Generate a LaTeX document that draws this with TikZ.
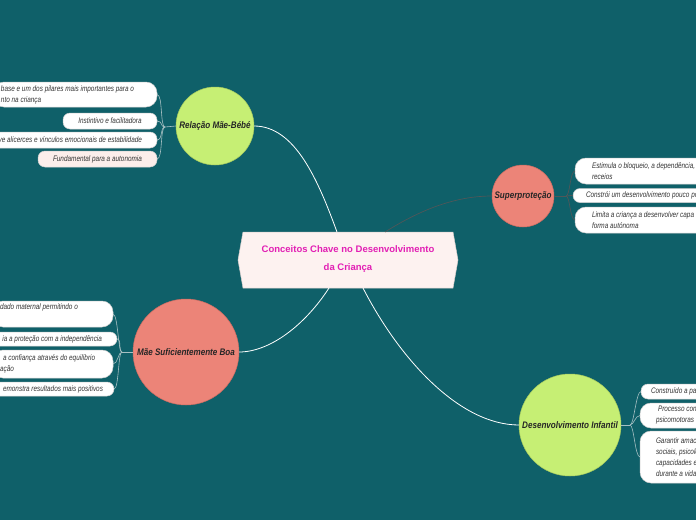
\documentclass[tikz,border=0pt]{standalone}
\usepackage{fontspec}
\setmainfont{Liberation Sans}
\newfontfamily\handfont[FakeStretch=0.8]{Liberation Sans}
\newfontfamily\circfont[FakeStretch=0.85]{Liberation Sans}
\definecolor{bgteal}{HTML}{0F6069}
\definecolor{lime}{HTML}{C6EF74}
\definecolor{limeline}{HTML}{A9CC5E}
\definecolor{salmon}{HTML}{EC8478}
\definecolor{salmonline}{HTML}{C96B61}
\definecolor{hexfill}{HTML}{FDF2F0}
\definecolor{hexline}{HTML}{D9CFCD}
\definecolor{titlemag}{HTML}{E21FB4}
\definecolor{twig}{HTML}{A7C0C3}
\definecolor{darktwig}{HTML}{4E5759}
\definecolor{boxline}{HTML}{CFCFCF}
\definecolor{pinkbox}{HTML}{FCEEEB}
\definecolor{leaftext}{HTML}{333333}
\tikzset{
  leaf/.style={draw=boxline, fill=white, line width=0.5pt, rounded corners=7pt,
    inner ysep=0pt, outer sep=0pt, align=left, text=leaftext,
    font=\handfont\itshape\fontsize{8}{11}\selectfont},
  tallleaf/.style={leaf, rounded corners=11pt},
  bubble/.style={circle, line width=0.5pt, inner sep=0pt, outer sep=0pt,
    text=black!85, font=\circfont\bfseries\itshape\fontsize{9.5}{11}\selectfont},
  mainlink/.style={white, line width=0.8pt},
  twiglink/.style={twig, line width=0.6pt},
  darklink/.style={darktwig, line width=0.7pt},
}
\begin{document}
\begin{tikzpicture}[x=1pt,y=-1pt]
\clip (0,0) rectangle (696,520);
\fill[bgteal] (0,0) rectangle (696,520);

% central node
\node[minimum width=210pt, minimum height=56pt, inner sep=0pt, outer sep=0pt] (c) at (348,260) {};
\filldraw[fill=hexfill, draw=hexline, line width=0.5pt]
  (c.north west) -- (c.north east) -- ([xshift=5pt]c.east) -- (c.south east)
  -- (c.south west) -- ([xshift=-5pt]c.west) -- cycle;
\node[align=center, text=titlemag, font=\bfseries\fontsize{9.5}{18}\selectfont] (ct) at (348,259)
  {Conceitos Chave no Desenvolvimento\\da Criança};

% main bubbles
\node[bubble, fill=lime, draw=limeline, minimum size=78pt] (r) at (215,126) {Relação Mãe-Bébé};
\node[bubble, fill=salmon, draw=salmonline, minimum size=62pt] (s) at (523,196) {Superproteção};
\node[bubble, fill=salmon, draw=salmonline, minimum size=106pt] (m) at (186,352) {Mãe Suficientemente Boa};
\node[bubble, fill=lime, draw=limeline, minimum size=102pt] (d) at (570,425) {Desenvolvimento Infantil};

% main connectors
\draw[mainlink] (r.east) .. controls (295,126) and (318,180) .. ([xshift=-11pt]c.north);
\draw[darklink] ([xshift=37pt]c.north) .. controls (420,210) and (455,196) .. (s.west);
\draw[mainlink] ([xshift=-19pt]c.south) .. controls (305,325) and (270,352) .. (m.east);
\draw[mainlink] ([xshift=15pt]c.south) .. controls (400,360) and (460,425) .. (d.west);

% Relação leaves
\node[tallleaf, anchor=east, inner xsep=8pt, minimum height=25pt] (r1) at (157,94.5)
  {\makebox[148pt][l]{base e um dos pilares mais importantes para o}\\\makebox[148pt][l]{nto na criança}};
\node[leaf, anchor=east, align=center, inner xsep=4pt, minimum width=94pt, minimum height=16pt] (r2) at (157,121)
  {Instintivo e facilitadora};
\node[leaf, anchor=east, inner xsep=15pt, minimum height=16pt] (r3) at (157,140)
  {\makebox[160pt][r]{ve alicerces e vínculos emocionais de estabilidade}};
\node[leaf, fill=pinkbox, anchor=east, align=center, inner xsep=4pt, minimum width=119pt, minimum height=16pt] (r4) at (157,159)
  {Fundamental para a autonomia};
\coordinate (jr) at (165,127);
\draw[twiglink] (r.west) -- (jr);
\foreach \k in {r1,r2,r3,r4}
  \draw[twiglink] (jr) .. controls +(-5,0) and +(6,0) .. (\k.east);

% Superproteção leaves
\node[tallleaf, anchor=west, inner xsep=17pt, minimum height=26pt] (s1) at (575,171)
  {\makebox[150pt][l]{Estimula o bloqueio, a dependência,}\\\makebox[150pt][l]{receios}};
\node[leaf, anchor=west, inner xsep=13pt, minimum height=14pt] (s2) at (573,195.5)
  {\makebox[150pt][l]{Constrói um desenvolvimento pouco po}};
\node[tallleaf, anchor=west, inner xsep=17pt, minimum height=26pt] (s3) at (575,220)
  {\makebox[150pt][l]{Limita a criança a desenvolver capa}\\\makebox[150pt][l]{forma autónoma}};
\coordinate (js) at (566,196);
\draw[darklink] (s.east) -- (js);
\foreach \k in {s1,s2,s3}
  \draw[darklink] (js) .. controls +(4,0) and +(-5,0) .. (\k.west);

% Mãe Suficientemente Boa leaves
\node[tallleaf, anchor=east, inner xsep=8pt, minimum height=26pt] (m1) at (113,314)
  {\makebox[105pt][l]{dado maternal permitindo o}\\\makebox[105pt][l]{\strut}};
\node[leaf, anchor=east, inner xsep=15pt, minimum height=14pt] (m2) at (117,339)
  {\makebox[140pt][r]{ia a proteção com a independência}};
\node[tallleaf, anchor=east, inner xsep=8pt, minimum height=28pt] (m3) at (113,364)
  {\makebox[105pt][l]{\hspace*{3pt}a confiança através do equilíbrio}\\\makebox[105pt][l]{ação}};
\node[leaf, anchor=east, inner xsep=11pt, minimum height=14pt] (m4) at (114,389)
  {\makebox[140pt][r]{emonstra resultados mais positivos}};
\coordinate (jm) at (122,352);
\draw[twiglink] (m.west) -- (jm);
\foreach \k in {m1,m2,m3,m4}
  \draw[twiglink] (jm) .. controls +(-4,0) and +(5,0) .. (\k.east);

% Desenvolvimento Infantil leaves
\node[leaf, anchor=west, inner xsep=10pt, minimum height=15pt] (d1) at (641,391.5)
  {\makebox[100pt][l]{Construído a pa}};
\node[tallleaf, anchor=west, inner xsep=16pt, minimum height=25pt] (d2) at (640,415.5)
  {\makebox[100pt][l]{\hspace*{2pt}Processo cont}\\\makebox[100pt][l]{psicomotoras}};
\node[tallleaf, anchor=west, inner xsep=16pt, minimum height=52pt] (d3) at (640,457)
  {\makebox[100pt][l]{Garantir amac}\\\makebox[100pt][l]{sociais, psicoló}\\\makebox[100pt][l]{capacidades e}\\\makebox[100pt][l]{durante a vida}};
\coordinate (jd) at (630,425);
\draw[twiglink] (d.east) -- (jd);
\foreach \k in {d1,d2,d3}
  \draw[twiglink] (jd) .. controls +(4,0) and +(-5,0) .. (\k.west);
\end{tikzpicture}
\end{document}
